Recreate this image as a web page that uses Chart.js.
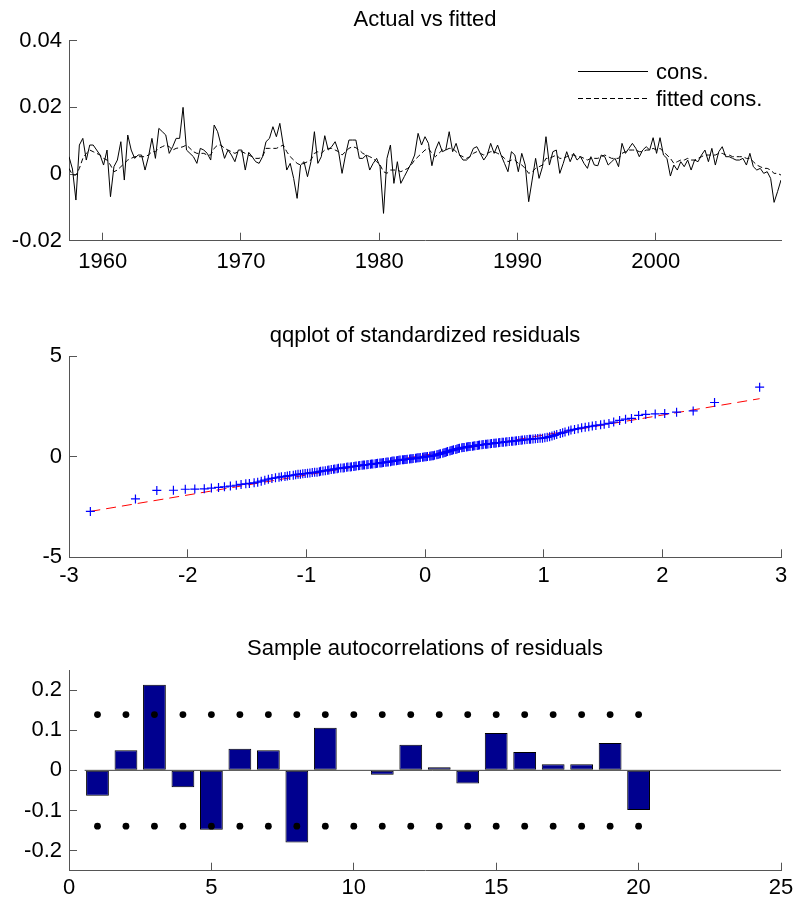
<!DOCTYPE html>
<html><head><meta charset="utf-8">
<script src="https://cdn.jsdelivr.net/npm/chart.js@4.4.1/dist/chart.umd.min.js"></script>
<style>
html,body{margin:0;padding:0;background:#fff;}
#wrap{position:relative;width:796px;height:906px;overflow:hidden;}
canvas{position:absolute;left:0;}
</style></head><body>
<div id="wrap">
<canvas id="c1" width="796" height="300" style="top:0px"></canvas>
<canvas id="c2" width="796" height="310" style="top:300px"></canvas>
<canvas id="c3" width="796" height="296" style="top:610px"></canvas>
</div>
<script>
// ---------- Panel 1: Actual vs fitted (quarterly) ----------
const startQuarter = 1957.56;
const quarterStep = 0.25;
const consValues = [
0.0052,0.0015,-0.0078,0.0087,0.0107,0.0042,0.0087,0.0087,0.0072,0.0057,
0.0027,0.0072,-0.0068,0.0022,0.0042,0.0097,-0.0018,0.0117,0.0072,0.0047,
0.0057,0.0057,0.0012,0.0052,0.0107,0.0047,0.0137,0.0127,0.0117,0.0062,
0.0082,0.0107,0.0107,0.0200,0.0072,0.0062,0.0052,0.0032,0.0077,0.0072,
0.0062,0.0042,0.0147,0.0127,0.0087,0.0047,0.0072,0.0057,0.0037,0.0072,
0.0072,0.0012,0.0065,0.0052,0.0037,0.0032,0.0052,0.0097,0.0107,0.0142,
0.0112,0.0152,0.0087,0.0012,0.0032,-0.0013,-0.0073,0.0027,0.0037,-0.0008,
0.0037,0.0127,0.0032,0.0052,0.0115,0.0072,0.0082,0.0097,0.0067,0.0002,
0.0057,0.0102,0.0102,0.0102,0.0047,0.0047,0.0057,0.0012,0.0032,0.0047,
0.0022,-0.0118,0.0047,0.0087,-0.0028,0.0037,-0.0028,-0.0008,0.0012,0.0032,
0.0057,0.0122,0.0087,0.0112,0.0092,0.0025,0.0072,0.0097,0.0067,0.0072,
0.0127,0.0067,0.0092,0.0057,0.0042,0.0042,0.0052,0.0077,0.0082,0.0062,
0.0042,0.0057,0.0092,0.0062,0.0087,0.0057,0.0032,0.0007,0.0067,0.0057,
0.0007,0.0062,0.0027,-0.0083,-0.0018,0.0047,-0.0013,0.0022,0.0112,0.0027,
0.0067,0.0072,0.0002,0.0032,0.0067,0.0037,0.0062,0.0042,0.0052,0.0032,
0.0017,0.0052,0.0027,0.0025,0.0057,0.0052,0.0027,0.0037,0.0047,0.0022,
0.0092,0.0062,0.0077,0.0092,0.0077,0.0052,0.0072,0.0082,0.0072,0.0109,
0.0062,0.0109,0.0057,0.0047,-0.0006,0.0027,0.0012,0.0037,0.0022,0.0042,
0.0012,0.0042,0.0037,0.0057,0.0072,0.0037,0.0077,0.0027,0.0067,0.0082,
0.0052,0.0052,0.0047,0.0042,0.0042,0.0047,0.0027,0.0062,0.0022,0.0012,
0.0017,0.0002,0.0007,-0.0013,-0.0085,-0.0053,-0.0018];
const fittedValues = [
0.0017,-0.0003,-0.0003,0.0017,0.0047,0.0062,0.0072,0.0067,0.0062,0.0057,
0.0047,0.0042,0.0027,0.0007,0.0012,0.0022,0.0032,0.0042,0.0047,0.0052,
0.0052,0.0052,0.0052,0.0057,0.0067,0.0067,0.0077,0.0082,0.0087,0.0082,
0.0072,0.0077,0.0079,0.0082,0.0087,0.0077,0.0067,0.0062,0.0062,0.0062,
0.0057,0.0057,0.0077,0.0087,0.0087,0.0077,0.0072,0.0067,0.0062,0.0067,
0.0067,0.0062,0.0057,0.0052,0.0047,0.0047,0.0052,0.0077,0.0077,0.0077,
0.0077,0.0082,0.0087,0.0067,0.0052,0.0042,0.0032,0.0027,0.0032,0.0037,
0.0042,0.0062,0.0067,0.0062,0.0072,0.0077,0.0077,0.0072,0.0067,0.0057,
0.0067,0.0077,0.0082,0.0079,0.0072,0.0062,0.0057,0.0052,0.0047,0.0037,
0.0027,0.0007,0.0002,0.0012,0.0012,0.0012,0.0007,0.0012,0.0017,0.0027,
0.0042,0.0052,0.0062,0.0072,0.0077,0.0062,0.0052,0.0062,0.0072,0.0072,
0.0077,0.0077,0.0067,0.0057,0.0052,0.0047,0.0052,0.0062,0.0067,0.0062,
0.0057,0.0062,0.0067,0.0067,0.0062,0.0057,0.0047,0.0037,0.0042,0.0042,
0.0032,0.0027,0.0017,0.0002,0.0007,0.0017,0.0022,0.0027,0.0047,0.0047,
0.0052,0.0057,0.0047,0.0047,0.0052,0.0057,0.0057,0.0052,0.0052,0.0047,
0.0042,0.0047,0.0047,0.0047,0.0052,0.0057,0.0052,0.0047,0.0047,0.0047,
0.0062,0.0067,0.0072,0.0072,0.0072,0.0067,0.0067,0.0072,0.0072,0.0077,
0.0072,0.0077,0.0067,0.0057,0.0047,0.0032,0.0037,0.0042,0.0042,0.0047,
0.0042,0.0042,0.0047,0.0052,0.0057,0.0057,0.0057,0.0057,0.0062,0.0062,
0.0057,0.0057,0.0052,0.0052,0.0052,0.0052,0.0047,0.0047,0.0037,0.0027,
0.0022,0.0017,0.0017,0.0012,0.0002,0.0002,-0.0003];
const panel1YTicks = [-0.02, 0, 0.02, 0.04];
const panel1XTicks = [1960, 1970, 1980, 1990, 2000];
const panel1SeriesNames = ['cons.', 'fitted cons.'];

// ---------- Panel 2: qqplot ----------
const qqTheoretical = [
-2.82,-2.44,-2.26,-2.12,-2.02,-1.94,-1.86,-1.80,-1.74,-1.69,
-1.64,-1.59,-1.55,-1.51,-1.48,-1.44,-1.41,-1.38,-1.35,-1.32,
-1.29,-1.26,-1.23,-1.21,-1.18,-1.16,-1.14,-1.11,-1.09,-1.07,
-1.05,-1.03,-1.01,-0.99,-0.97,-0.95,-0.93,-0.91,-0.89,-0.88,
-0.86,-0.84,-0.82,-0.81,-0.79,-0.77,-0.76,-0.74,-0.73,-0.71,
-0.69,-0.68,-0.66,-0.65,-0.63,-0.62,-0.60,-0.59,-0.58,-0.56,
-0.55,-0.53,-0.52,-0.51,-0.49,-0.48,-0.46,-0.45,-0.44,-0.42,
-0.41,-0.40,-0.38,-0.37,-0.36,-0.35,-0.33,-0.32,-0.31,-0.29,
-0.28,-0.27,-0.26,-0.24,-0.23,-0.22,-0.21,-0.19,-0.18,-0.17,
-0.16,-0.15,-0.13,-0.12,-0.11,-0.10,-0.08,-0.07,-0.06,-0.05,
-0.04,-0.02,-0.01,0,
0.01,0.02,0.04,0.05,0.06,0.07,0.08,0.10,0.11,0.12,
0.13,0.15,0.16,0.17,0.18,0.19,0.21,0.22,0.23,0.24,
0.26,0.27,0.28,0.29,0.31,0.32,0.33,0.35,0.36,0.37,
0.38,0.40,0.41,0.42,0.44,0.45,0.46,0.48,0.49,0.51,
0.52,0.53,0.55,0.56,0.58,0.59,0.60,0.62,0.63,0.65,
0.66,0.68,0.69,0.71,0.73,0.74,0.76,0.77,0.79,0.81,
0.82,0.84,0.86,0.88,0.89,0.91,0.93,0.95,0.97,0.99,
1.01,1.03,1.05,1.07,1.09,1.11,1.14,1.16,1.18,1.21,
1.23,1.26,1.29,1.32,1.35,1.38,1.41,1.44,1.48,1.51,
1.55,1.59,1.64,1.69,1.74,1.80,1.86,1.94,2.02,2.12,
2.26,2.44,2.82];
const qqResiduals = [
-2.72,-2.10,-1.68,-1.67,-1.62,-1.61,-1.60,-1.56,-1.53,-1.50,
-1.46,-1.42,-1.38,-1.35,-1.33,-1.30,-1.27,-1.22,-1.17,-1.12,
-1.08,-1.05,-1.02,-1.00,-0.98,-0.96,-0.94,-0.92,-0.90,-0.88,
-0.87,-0.85,-0.84,-0.83,-0.81,-0.79,-0.78,-0.77,-0.75,-0.73,
-0.71,-0.70,-0.68,-0.66,-0.64,-0.63,-0.61,-0.60,-0.58,-0.57,
-0.56,-0.55,-0.53,-0.52,-0.51,-0.50,-0.49,-0.48,-0.47,-0.45,
-0.44,-0.43,-0.42,-0.41,-0.40,-0.39,-0.38,-0.37,-0.36,-0.35,
-0.34,-0.33,-0.32,-0.31,-0.30,-0.29,-0.28,-0.27,-0.26,-0.25,
-0.23,-0.22,-0.21,-0.20,-0.19,-0.18,-0.17,-0.16,-0.15,-0.14,
-0.14,-0.13,-0.12,-0.11,-0.10,-0.09,-0.08,-0.07,-0.06,-0.05,
-0.04,-0.03,-0.02,-0.01,
0.00,0.01,0.02,0.03,0.04,0.05,0.07,0.09,0.11,0.13,
0.15,0.17,0.19,0.21,0.23,0.25,0.28,0.30,0.32,0.34,
0.36,0.38,0.40,0.42,0.44,0.45,0.46,0.48,0.49,0.50,
0.51,0.52,0.53,0.54,0.56,0.57,0.58,0.59,0.60,0.61,
0.62,0.63,0.64,0.65,0.66,0.67,0.68,0.69,0.70,0.71,
0.72,0.73,0.74,0.75,0.76,0.77,0.78,0.79,0.80,0.81,
0.83,0.84,0.85,0.86,0.87,0.88,0.89,0.90,0.91,0.92,
0.94,0.96,0.99,1.02,1.06,1.10,1.15,1.19,1.22,1.28,
1.32,1.35,1.39,1.43,1.46,1.49,1.52,1.55,1.58,1.61,
1.65,1.72,1.80,1.86,1.90,2.05,2.10,2.12,2.14,2.21,
2.27,2.69,3.45];
const qqLineX = [-2.82, 2.82];
const qqLineY = [-2.72, 2.88];
const panel2XTicks = [-3, -2, -1, 0, 1, 2, 3];
const panel2YTicks = [-5, 0, 5];

// ---------- Panel 3: sample autocorrelations ----------
const lags = [1,2,3,4,5,6,7,8,9,10,11,12,13,14,15,16,17,18,19,20];
const acfValues = [-0.063,0.050,0.213,-0.042,-0.148,0.054,0.050,-0.180,0.106,-0.001,
                   -0.011,0.064,0.008,-0.033,0.093,0.046,0.015,0.015,0.068,-0.099];
const upperBound = [0.139,0.139,0.139,0.139,0.139,0.139,0.139,0.139,0.139,0.139,
                    0.139,0.139,0.139,0.139,0.139,0.139,0.139,0.139,0.139,0.139];
const lowerBound = [-0.139,-0.139,-0.139,-0.139,-0.139,-0.139,-0.139,-0.139,-0.139,-0.139,
                    -0.139,-0.139,-0.139,-0.139,-0.139,-0.139,-0.139,-0.139,-0.139,-0.139];
const zeroLineX = [0.55, 25];
const panel3XTicks = [0, 5, 10, 15, 20, 25];
const panel3YTicks = [-0.2, -0.1, 0, 0.1, 0.2];

// ---------- shared styling ----------
const FONT = "'Liberation Sans', Arial, Helvetica, sans-serif";
Chart.defaults.font.family = FONT;
Chart.defaults.font.size = 22;
Chart.defaults.color = '#000';
Chart.defaults.animation = false;

const AXIS_COLOR = '#555';
function makeAxis(o) {
  return {
    type: 'linear',
    position: o.position,
    min: o.min, max: o.max,
    offset: false,
    afterBuildTicks: s => { s.ticks = o.ticks.map(v => ({value: v})); },
    afterFit: s => {
      if (o.position === 'left') { s.width = o.size; s.paddingTop = 0; s.paddingBottom = 0; }
      else { s.height = o.size; s.paddingLeft = 0; s.paddingRight = 0; }
    },
    grid: {display: true, drawOnChartArea: false, drawTicks: true, tickLength: -8,
           color: AXIS_COLOR, lineWidth: 1, offset: false},
    border: {display: true, color: AXIS_COLOR, width: 1},
    ticks: {autoSkip: false, maxRotation: 0, minRotation: 0, padding: o.padding,
            color: '#000', font: {size: 22, family: FONT},
            callback: v => String(Math.round(v * 1000) / 1000)}
  };
}

const titlePlugin = {
  id: 'axesTitle',
  afterDraw(chart, args, opts) {
    const {ctx, chartArea: a} = chart;
    ctx.save();
    ctx.font = '22px ' + FONT;
    ctx.fillStyle = '#000';
    ctx.textAlign = 'center';
    ctx.textBaseline = 'alphabetic';
    ctx.fillText(opts.text, (a.left + a.right) / 2, opts.y);
    ctx.restore();
  }
};

const insideLegend = {
  id: 'insideLegend',
  afterDraw(chart, args, opts) {
    if (!opts || !opts.show) return;
    const {ctx, chartArea: a} = chart;
    ctx.save();
    ctx.font = '22px ' + FONT;
    ctx.fillStyle = '#000';
    ctx.textAlign = 'left';
    ctx.textBaseline = 'alphabetic';
    chart.data.datasets.forEach((ds, i) => {
      const y = Math.round(a.top + opts.firstRow + i * opts.rowGap) + 0.5;
      ctx.beginPath();
      ctx.strokeStyle = ds.borderColor;
      ctx.lineWidth = 1;
      ctx.setLineDash(ds.borderDash || []);
      ctx.moveTo(a.right - 203, y);
      ctx.lineTo(a.right - 133, y);
      ctx.stroke();
      ctx.setLineDash([]);
      ctx.fillText(ds.label, a.right - 125, y + 7.5);
    });
    ctx.restore();
  }
};

// ---------- Chart 1 ----------
const quarterDates = [];
for (let k = 0; k < consValues.length; k++) quarterDates.push(startQuarter + quarterStep * k);

new Chart(document.getElementById('c1'), {
  type: 'line',
  data: {
    labels: quarterDates,
    datasets: [
      {label: panel1SeriesNames[0], data: consValues, borderColor: '#000', borderWidth: 1,
       pointRadius: 0, tension: 0, fill: false},
      {label: panel1SeriesNames[1], data: fittedValues, borderColor: '#000', borderWidth: 1,
       borderDash: [5, 3], pointRadius: 0, tension: 0, fill: false}
    ]
  },
  options: {
    responsive: false,
    layout: {padding: {left: 0, right: 15, top: 40.7, bottom: 0}},
    scales: {
      x: makeAxis({position: 'bottom', min: quarterDates[0], max: quarterDates[quarterDates.length - 1],
                   ticks: panel1XTicks, size: 300 - 240.7, padding: 16}),
      y: makeAxis({position: 'left', min: -0.02, max: 0.04, ticks: panel1YTicks, size: 69, padding: 15})
    },
    plugins: {
      legend: {display: false}, tooltip: {enabled: false},
      axesTitle: {text: 'Actual vs fitted', y: 26},
      insideLegend: {show: true, firstRow: 30, rowGap: 27.6}
    }
  },
  plugins: [titlePlugin, insideLegend]
});

// ---------- Chart 2 ----------
new Chart(document.getElementById('c2'), {
  type: 'scatter',
  data: {
    datasets: [
      {label: 'residuals', data: qqTheoretical.map((x, i) => ({x: x, y: qqResiduals[i]})),
       pointStyle: 'cross', pointRadius: 4.5, borderColor: '#0000ff', backgroundColor: '#0000ff',
       pointBorderWidth: 1.2, showLine: false},
      {label: 'reference', type: 'line',
       data: qqLineX.map((x, i) => ({x: x, y: qqLineY[i]})),
       borderColor: '#ff0000', borderWidth: 1, borderDash: [10, 6], pointRadius: 0, tension: 0, fill: false}
    ]
  },
  options: {
    responsive: false,
    layout: {padding: {left: 0, right: 15, top: 56, bottom: 0}},
    scales: {
      x: makeAxis({position: 'bottom', min: -3, max: 3, ticks: panel2XTicks, size: 310 - 257.3, padding: 13.5}),
      y: makeAxis({position: 'left', min: -5, max: 5, ticks: panel2YTicks, size: 69, padding: 15})
    },
    plugins: {
      legend: {display: false}, tooltip: {enabled: false},
      axesTitle: {text: 'qqplot of standardized residuals', y: 41.7}
    }
  },
  plugins: [titlePlugin]
});

// ---------- Chart 3 ----------
new Chart(document.getElementById('c3'), {
  type: 'bar',
  data: {
    datasets: [
      {label: 'upper', type: 'scatter', data: lags.map((l, i) => ({x: l, y: upperBound[i]})),
       pointStyle: 'circle', pointRadius: 3.4, backgroundColor: '#000', borderColor: '#000', borderWidth: 0},
      {label: 'lower', type: 'scatter', data: lags.map((l, i) => ({x: l, y: lowerBound[i]})),
       pointStyle: 'circle', pointRadius: 3.4, backgroundColor: '#000', borderColor: '#000', borderWidth: 0},
      {label: 'zero', type: 'line', data: zeroLineX.map(x => ({x: x, y: 0})),
       borderColor: '#444', borderWidth: 1, pointRadius: 0, fill: false},
      {label: 'acf', type: 'bar', data: lags.map((l, i) => ({x: l, y: acfValues[i]})),
       backgroundColor: '#00008f', borderColor: '#000', borderWidth: 1, borderSkipped: false,
       categoryPercentage: 1, barPercentage: 0.8}
    ]
  },
  options: {
    responsive: false,
    layout: {padding: {left: 0, right: 15, top: 60, bottom: 0}},
    scales: {
      x: makeAxis({position: 'bottom', min: 0, max: 25, ticks: panel3XTicks, size: 296 - 260.7, padding: 12.5}),
      y: makeAxis({position: 'left', min: -0.25, max: 0.25, ticks: panel3YTicks, size: 69, padding: 15})
    },
    plugins: {
      legend: {display: false}, tooltip: {enabled: false},
      axesTitle: {text: 'Sample autocorrelations of residuals', y: 45}
    }
  },
  plugins: [titlePlugin]
});
</script>
</body></html>
